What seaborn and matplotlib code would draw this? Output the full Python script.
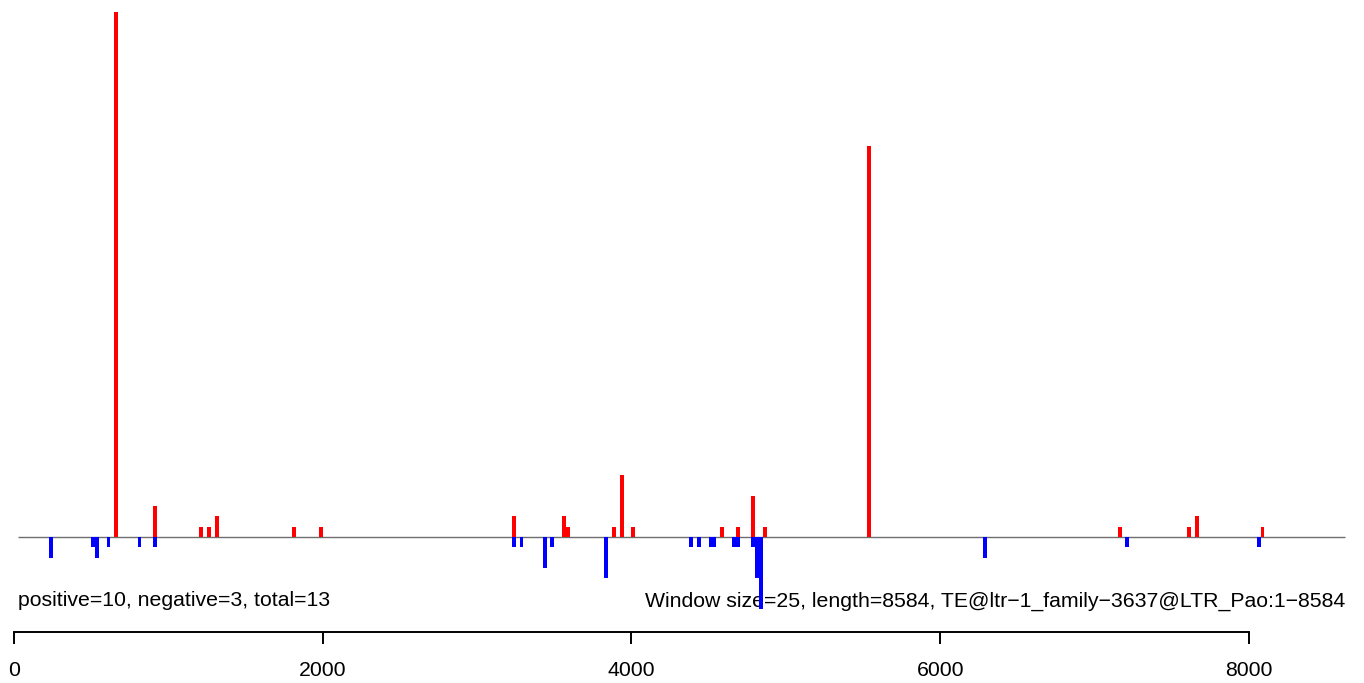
import numpy as np
import pandas as pd
import matplotlib
matplotlib.use("Agg")
import matplotlib.pyplot as plt
import seaborn as sns

# window size 25 over a sequence of length 8584
window = 25
seq_len = 8584

pos_start = [650, 900, 1200, 1250, 1300, 1800, 1975, 3225, 3550, 3575, 3875,
             3925, 4000, 4575, 4675, 4775, 4850, 5525, 7150, 7600, 7650, 8075]
pos_count = [51, 3, 1, 1, 2, 1, 1, 2, 2, 1, 1,
             6, 1, 1, 1, 4, 1, 38, 1, 1, 2, 1]

neg_start = [225, 500, 525, 600, 800, 900, 3225, 3275, 3425, 3475, 3825, 4375,
             4425, 4500, 4525, 4650, 4675, 4775, 4800, 4825, 6275, 7200, 8050]
neg_count = [-2, -1, -2, -1, -1, -1, -1, -1, -3, -1, -4, -1,
             -1, -1, -1, -1, -1, -1, -4, -7, -2, -1, -1]

left_label = "positive=10, negative=3, total=13"
right_label = "Window size=25, length=8584, TE@ltr\u22121_family\u22123637@LTR_Pao:1\u22128584"

df = pd.concat([
    pd.DataFrame({"start": pos_start, "count": pos_count, "strand": "pos"}),
    pd.DataFrame({"start": neg_start, "count": neg_count, "strand": "neg"}),
], ignore_index=True)
df["mid"] = df["start"] + window / 2

sns.set_style("white")
plt.rcParams["font.family"] = ["Liberation Sans", "DejaVu Sans"]

fig = plt.figure(figsize=(13.64, 6.83), dpi=100)
ax = fig.add_axes([0, 0, 1, 1])

sns.barplot(data=df, x="mid", y="count", hue="strand", native_scale=True,
            dodge=False, errorbar=None, width=1, saturation=1, linewidth=0,
            palette={"pos": "#FF0000", "neg": "#0000FF"}, legend=False, ax=ax)
for p in ax.patches:
    p.set_zorder(2)

ax.hlines(0, window, seq_len + 41, color="#6e6e6e", lw=1.0, zorder=1)

ax.set_xlim(-90.7, 8745)
ax.set_ylim(-14.17, 52.14)

# text sits under the bars, as in the original
ax.text(25, -6.2, left_label, fontsize=15.3, ha="left", va="center",
        color="black", zorder=0.5)
ax.text(8625, -6.2, right_label, fontsize=15.3, ha="right", va="center",
        color="black", zorder=0.5)

for s in ["top", "right", "left"]:
    ax.spines[s].set_visible(False)
ax.spines["bottom"].set_position(("data", -9.22))
ax.spines["bottom"].set_bounds(0, 8000)
ax.spines["bottom"].set_linewidth(1.4)
ax.spines["bottom"].set_color("black")
ax.set_xticks(np.arange(0, 8001, 2000))
ax.tick_params(axis="x", direction="out", length=8.6, width=1.4, pad=12,
               labelsize=15.3, bottom=True, color="black", labelcolor="black")
ax.set_yticks([])
ax.set_xlabel("")
ax.set_ylabel("")

fig.savefig("out.png", dpi=100)
